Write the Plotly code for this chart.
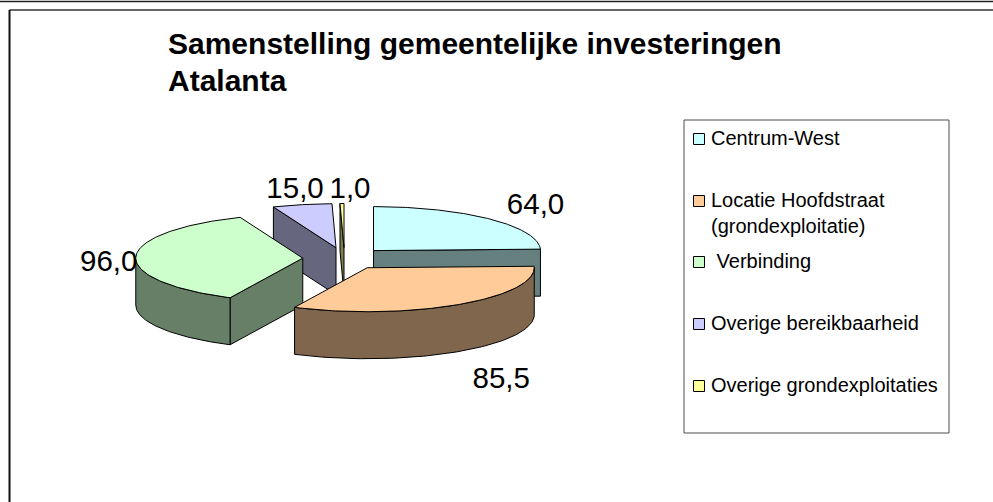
import numpy as np
import plotly.graph_objects as go

categories = ["Centrum-West", "Locatie Hoofdstraat\n(grondexploitatie)", " Verbinding",
              "Overige bereikbaarheid", "Overige grondexploitaties"]
values = [64.0, 85.5, 96.0, 15.0, 1.0]
value_labels = ["64,0", "85,5", "96,0", "15,0", "1,0"]
top_colors = ["#CCFFFF", "#FFCC99", "#CCFFCC", "#CCCCFF", "#FFFF99"]
side_colors = ["#667F7F", "#7F664C", "#667F66", "#66667F", "#7F7F4C"]
title_lines = ["Samenstelling gemeentelijke investeringen", "Atalanta"]

# pie geometry in axis units (axis = page pixels)
CX, CY, RX, RY, DEPTH, EXPLODE = 344.5, 258.5, 167, 44, 47, 0.25
label_offsets = [(162, -44), (134, 113), (-194, 5), (-41, -57), (6, -57)]
legend_y = [138, 200, 261, 323, 385]
LINE_GAP = 26

total = sum(values)
bounds = np.concatenate([[0], np.cumsum(values)]) / total * 2 * np.pi


def rim(cx, cy, a, dy=0.0):
    return cx + RX * np.sin(a), cy - RY * np.cos(a) + dy


def face_trace(xs, ys, color):
    return go.Scatter(x=list(xs), y=list(ys), mode="lines", fill="toself", fillcolor=color,
                      line=dict(color="black", width=1), hoverinfo="skip", showlegend=False)


slices = []
for i, v in enumerate(values):
    a0, a1 = bounds[i], bounds[i + 1]
    mid = (a0 + a1) / 2
    cx = CX + EXPLODE * RX * np.sin(mid)
    cy = CY - EXPLODE * RY * np.cos(mid)
    slices.append((i, a0, a1, cx, cy))

fig = go.Figure()

# value labels lie beneath the pie
fig.add_trace(go.Scatter(
    x=[s[3] + label_offsets[s[0]][0] for s in slices],
    y=[s[4] + label_offsets[s[0]][1] for s in slices],
    mode="text", text=value_labels, textposition="middle center",
    textfont=dict(family="Liberation Sans", size=29.5, color="black"),
    hoverinfo="skip", showlegend=False))

# painter's order: back slices first
for k in [3, 4, 0, 2, 1]:
    i, a0, a1, cx, cy = slices[k]
    # cut faces turned towards the viewer
    for a, visible in ((a0, np.sin(a0) < -1e-9), (a1, np.sin(a1) > 1e-9)):
        if visible:
            rx_, ry_ = rim(cx, cy, a)
            fig.add_trace(face_trace([cx, rx_, rx_, cx, cx], [cy, ry_, ry_ + DEPTH, cy + DEPTH, cy],
                                     side_colors[i]))
    # curved outer wall (front half only)
    lo, hi = max(a0, np.pi / 2), min(a1, 3 * np.pi / 2)
    if hi > lo:
        t = np.linspace(lo, hi, 80)
        x, y = rim(cx, cy, t)
        fig.add_trace(face_trace(np.r_[x, x[::-1], x[0]], np.r_[y, y[::-1] + DEPTH, y[0]], side_colors[i]))
    # top
    t = np.linspace(a0, a1, 120)
    x, y = rim(cx, cy, t)
    fig.add_trace(face_trace(np.r_[cx, x, cx], np.r_[cy, y, cy], top_colors[i]))

# legend
LEG_X0, LEG_X1, LEG_Y0, LEG_Y1 = 684, 949, 120, 433
fig.add_shape(type="rect", x0=LEG_X0, x1=LEG_X1, y0=LEG_Y0, y1=LEG_Y1, xref="x", yref="y",
              line=dict(color="#4d4d4d", width=1), fillcolor="white", layer="below")
fig.add_trace(go.Scatter(x=[699] * 5, y=[y + 1 for y in legend_y], mode="markers",
                         marker=dict(symbol="square", size=11, color=top_colors,
                                     line=dict(color="black", width=1)),
                         hoverinfo="skip", showlegend=False))
tx, ty, tt = [], [], []
for name, y in zip(categories, legend_y):
    for j, line in enumerate(name.split("\n")):
        tx.append(711)
        ty.append(y + 2 + j * LINE_GAP)
        tt.append(line.replace(" ", "\u00a0") if line.startswith(" ") else line)
fig.add_trace(go.Scatter(x=tx, y=ty, mode="text", text=tt, textposition="middle right",
                         textfont=dict(family="Liberation Sans", size=20, color="black"),
                         hoverinfo="skip", showlegend=False))

# frame
fig.add_shape(type="line", x0=9.5, x1=993, y0=10, y1=10, xref="x", yref="y",
              line=dict(color="#666666", width=2))
fig.add_shape(type="line", x0=9.5, x1=9.5, y0=10, y1=502, xref="x", yref="y",
              line=dict(color="#111111", width=2))
fig.add_shape(type="line", x0=0, x1=993, y0=1.5, y1=1.5, xref="x", yref="y",
              line=dict(color="#222222", width=1.5))

fig.update_layout(
    width=993, height=502, margin=dict(l=0, r=0, t=0, b=0),
    paper_bgcolor="white", plot_bgcolor="white", showlegend=False,
    xaxis=dict(range=[0, 993], visible=False, fixedrange=True),
    yaxis=dict(range=[502, 0], visible=False, fixedrange=True),
)
for line, base in zip(title_lines, [43.5, 80]):
    fig.add_annotation(x=166, y=base, xref="x", yref="y", text="<b>%s</b>" % line, showarrow=False,
                       xanchor="left", yanchor="middle",
                       font=dict(family="Liberation Sans", size=30, color="black"))
fig.write_html("out.html", config={"displayModeBar": False},
               post_script="document.body.style.margin='0';document.body.style.overflow='hidden';")
